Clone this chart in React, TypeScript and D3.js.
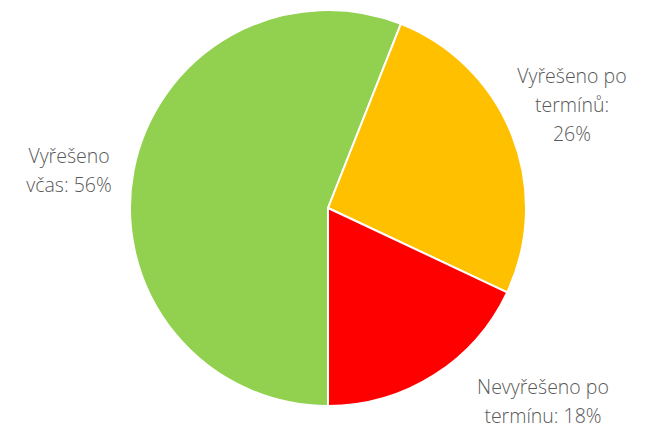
import React from "react";
import * as d3 from "d3";

const categories = ["Vyřešeno včas", "Vyřešeno po termínu", "Nevyřešeno po termínu"];
const values = [56, 26, 18];
const colors = ["#92D050", "#FFC000", "#FF0000"];
const labelLines = [
  ["Vyřešeno", "včas: 56%"],
  ["Vyřešeno po", "termínů:", "26%"],
  ["Nevyřešeno po", "termínu: 18%"],
];
const labelPos = [
  [69, 163],
  [572, 83],
  [543, 394],
];

export default function App() {
  const W = 649, H = 428;
  const cx = 328, cy = 208, r = 198;
  const pie = d3.pie<number>().sort(null).startAngle(Math.PI).endAngle(3 * Math.PI);
  const arcs = pie(values);
  const arc = d3.arc<d3.PieArcDatum<number>>().innerRadius(0).outerRadius(r);
  return (
    <svg width={W} height={H} style={{ position: "absolute", left: 0, top: 0 }}>
      <rect width={W} height={H} fill="#fff" />
      <g transform={`translate(${cx},${cy})`}>
        {arcs.map((a, i) => (
          <path key={categories[i]} d={arc(a) || ""} fill={colors[i]} stroke="#fff" strokeWidth={2} strokeLinejoin="round" />
        ))}
      </g>
      {labelLines.map((lines, i) => (
        <text key={i} x={labelPos[i][0]} y={labelPos[i][1]} textAnchor="middle" fill="#595959" fontFamily="'Open Sans', 'Noto Sans', sans-serif" fontWeight={300} fontSize={19.5}>
          {lines.map((l, j) => (
            <tspan key={j} x={labelPos[i][0]} dy={j === 0 ? 0 : 29}>{l}</tspan>
          ))}
        </text>
      ))}
    </svg>
  );
}
